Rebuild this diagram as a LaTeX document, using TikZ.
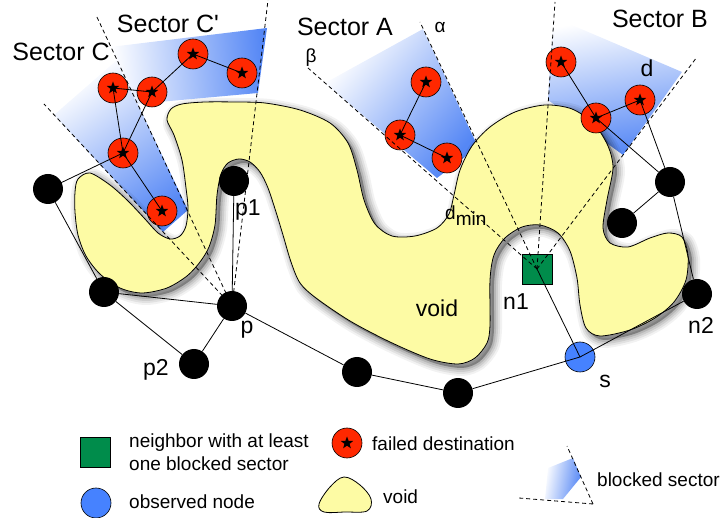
\documentclass[tikz,border=0pt]{standalone}
\usepackage{fontspec}
\setmainfont{Liberation Sans}
\usetikzlibrary{shapes.geometric}
\definecolor{voidY}{RGB}{253,251,164}
\definecolor{redN}{RGB}{255,40,0}
\definecolor{greenN}{RGB}{0,140,75}
\definecolor{blueN}{RGB}{70,130,255}
\definecolor{blueS}{RGB}{85,135,245}
\newcommand\voidshape{plot[smooth cycle,tension=0.5] coordinates {
 (75,192) (78,179) (90,173) (110,185) (128,201) (145,219) (158,233) (170,239) (180,236) (186,226) (188,208) (186,188) (182,160) (174,135) (167,120) (171,109) (182,104) (205,102) (235,102) (265,103) (300,110) (330,123) (348,143) (357,170) (364,200) (375,224) (392,236) (415,236) (437,228) (449,214) (454,195) (460,170) (472,146) (490,127) (515,112) (545,105) (572,109) (594,124) (608,146) (613,168) (607,200) (603,228) (610,243) (628,247) (650,238) (668,233) (682,237) (688,255) (686,280) (674,302) (655,318) (630,330) (600,336) (586,328) (580,305) (577,278) (570,251) (558,233) (540,225) (522,227) (505,238) (494,255) (490,280) (490,325) (487,343) (475,358) (458,364) (430,359) (390,342) (350,321) (316,298) (300,283) (291,262) (283,235) (276,212) (268,188) (260,172) (250,162) (239,159) (228,163) (221,174) (217,195) (215,225) (209,247) (200,262) (187,276) (167,288) (142,293) (120,288) (100,274) (86,256) (78,235) (75,212)}}
\begin{document}
\begin{tikzpicture}[x=1pt,y=-1pt,
  blk/.style={circle,fill=black,minimum size=30pt,inner sep=0},
  starmark/.style={star,star points=5,star point ratio=2.4,fill=black,inner sep=0,minimum size=13pt},
  fail/.style={circle,fill=redN,draw=black,line width=0.6pt,minimum size=30pt,inner sep=0,
    path picture={\node[starmark] at (path picture bounding box.center) {};}},
  obs/.style={circle,fill=blueN,draw=black,line width=0.6pt,minimum size=30pt,inner sep=0},
  nbr/.style={rectangle,fill=greenN,draw=black,line width=0.6pt,minimum size=30pt,inner sep=0},
  edge/.style={line width=0.8pt},
  dsh/.style={dash pattern=on 4pt off 3pt,line width=0.8pt},
  lbl/.style={font=\fontsize{23}{26}\selectfont,inner sep=0},
  sect/.style={font=\fontsize{25}{28}\selectfont,inner sep=0},
  small/.style={font=\fontsize{19}{22}\selectfont,inner sep=0},
  leg/.style={font=\fontsize{19}{23}\selectfont,anchor=west,align=left,inner sep=0},
  voidstyle/.style={fill=voidY,draw=black,line width=0.8pt},
]
\useasboundingbox (0,0) rectangle (723,518);

% blocked sectors
\shade[top color=white,bottom color=blueS,shading angle=35] (54,115) -- (117,60) -- (188,210) -- (163,232) -- cycle;
\shade[top color=white,bottom color=blueS,shading angle=95] (110,47) -- (267,28) -- (258,93) -- (137,104) -- cycle;
\shade[top color=white,bottom color=blueS,shading angle=50] (325,83) -- (423,29) -- (478,147) -- (437,178) -- cycle;
\shade[top color=white,bottom color=blueS,shading angle=10] (553,17) -- (682,72) -- (623,155) -- (548,100) -- cycle;

% void with soft shadow
\begin{scope}[xshift=4pt,yshift=-4pt]
  \foreach \w/\o in {16/0.05,12/0.07,8/0.09,4/0.11} {
    \draw[line width=\w pt,draw=black,draw opacity=\o,line join=round] \voidshape;
  }
  \fill[black,opacity=0.3] \voidshape;
\end{scope}
\draw[voidstyle] \voidshape;

% sector boundary end points
\coordinate (cL1) at (44,104);
\coordinate (cL2) at (96,15);
\coordinate (cL3) at (268,0);
\coordinate (aB) at (308,68);
\coordinate (aA) at (420,22);
\coordinate (bL) at (555,2);
\coordinate (bR) at (697,57);

% nodes with visible centres
\node[nbr] (n1) at (537,269) {};
\node[obs] (s) at (580,357) {};
\node[fail] (c1) at (113,88) {};
\node[fail] (c2) at (152,92) {};
\node[fail] (c3) at (193,54) {};
\node[fail] (c4) at (242,73) {};
\node[fail] (c5) at (123,153) {};
\node[fail] (c6) at (162,211) {};
\node[fail] (fa1) at (426,82) {};
\node[fail] (fa2) at (400,135) {};
\node[fail] (fa3) at (447,158) {};
\node[fail] (fb1) at (561,62) {};
\node[fail] (fb2) at (596,118) {};
\node[fail] (fb3) at (640,100) {};

% black node positions
\coordinate (pa1) at (48,189);
\coordinate (pa2) at (104,292);
\coordinate (pp) at (232,306);

% dashed sector boundaries
\draw[dsh] (pp) -- (cL1);
\draw[dsh] (pp) -- (cL2);
\draw[dsh] (pp) -- (cL3);
\draw[dsh] (n1.center) -- (aB);
\draw[dsh] (n1.center) -- (aA);
\draw[dsh] (n1.center) -- (bL);
\draw[dsh] (n1.center) -- (bR);

% black nodes
\node[blk] (a1) at (pa1) {};
\node[blk] (a2) at (pa2) {};
\node[blk] (p) at (pp) {};
\node[blk] (p1) at (234,181) {};
\node[blk] (p2) at (194,364) {};
\node[blk] (b1) at (357,372) {};
\node[blk] (b2) at (458,393) {};
\node[blk] (n2) at (697,294) {};
\node[blk] (r1) at (670,182) {};
\node[blk] (r2) at (622,223) {};

% solid edges
\draw[edge] (a1.center) -- (c5.center);
\draw[edge] (c5.center) -- (c1.center);
\draw[edge] (c1.center) -- (c2.center);
\draw[edge] (c5.center) -- (c2.center);
\draw[edge] (c2.center) -- (c3.center);
\draw[edge] (c3.center) -- (c4.center);
\draw[edge] (c5.center) -- (c6.center);
\draw[edge] (fa1.center) -- (fa2.center);
\draw[edge] (fa2.center) -- (fa3.center);
\draw[edge] (fb1.center) -- (fb2.center);
\draw[edge] (fb2.center) -- (fb3.center);
\draw[edge] (fb2.center) -- (r1);
\draw[edge] (fb3.center) -- (r1);
\draw[edge] (r1) -- (r2);
\draw[edge] (r1) -- (n2);
\draw[edge] (n2) -- (s.center);
\draw[edge] (s.center) -- (n1.center);
\draw[edge] (s.center) -- (b2);
\draw[edge] (b2) -- (b1);
\draw[edge] (b1) -- (p);
\draw[edge] (p) -- (p1);
\draw[edge] (p) -- (p2);
\draw[edge] (p) -- (a2);
\draw[edge] (p2) -- (a2);
\draw[edge] (a2) -- (a1);

% labels
\node[sect] (tC) at (61,52) {Sector C};
\node[sect] (tCp) at (168,24) {Sector C\textquotesingle};
\node[sect] (tA) at (345,27) {Sector A};
\node[sect] (tB) at (660,19) {Sector B};
\node[small] (talpha) at (440,27) {α};
\node[small] (tbeta) at (311,58) {β};
\node[lbl] (td) at (647,68) {d};
\node[small,anchor=south west] (tdmin) at (445,226) {d\raisebox{-6pt}{min}};
\node[lbl] (tp1) at (248,210) {p1};
\node[lbl] (tp) at (247,330) {p};
\node[lbl] (tp2) at (156,370) {p2};
\node[lbl] (tvoid) at (437,308) {void};
\node[lbl] (tn1) at (516,302) {n1};
\node[lbl] (tn2) at (701,325) {n2};
\node[lbl] (ts) at (605,381) {s};

% legend
\node[nbr] (lgN) at (95,452) {};
\node[leg] (lgNt) at (129,452) {neighbor with at least\\one blocked sector};
\node[fail] (lgF) at (347,443) {};
\node[leg] (lgFt) at (372,444) {failed destination};
\node[obs] (lgS) at (96,503) {};
\node[leg] (lgSt) at (129,502) {observed node};
\draw[voidstyle] plot[smooth cycle,tension=0.6] coordinates {(319,504) (330,487) (344,477) (360,485) (371,499) (367,511) (345,512) (324,512)};
\node[leg] (lgVt) at (383,497) {void};
\shade[top color=white,bottom color=blueS,shading angle=80] (548,468) -- (573,458) -- (581,477) -- (563,499) -- (545,499) -- cycle;
\coordinate (lgA) at (593,504);
\coordinate (lgB) at (567,446);
\coordinate (lgC) at (519,498);
\draw[dsh] (lgA) -- (lgB);
\draw[dsh] (lgA) -- (lgC);
\node[leg] (lgBt) at (597,480) {blocked sector};
\end{tikzpicture}
\end{document}
